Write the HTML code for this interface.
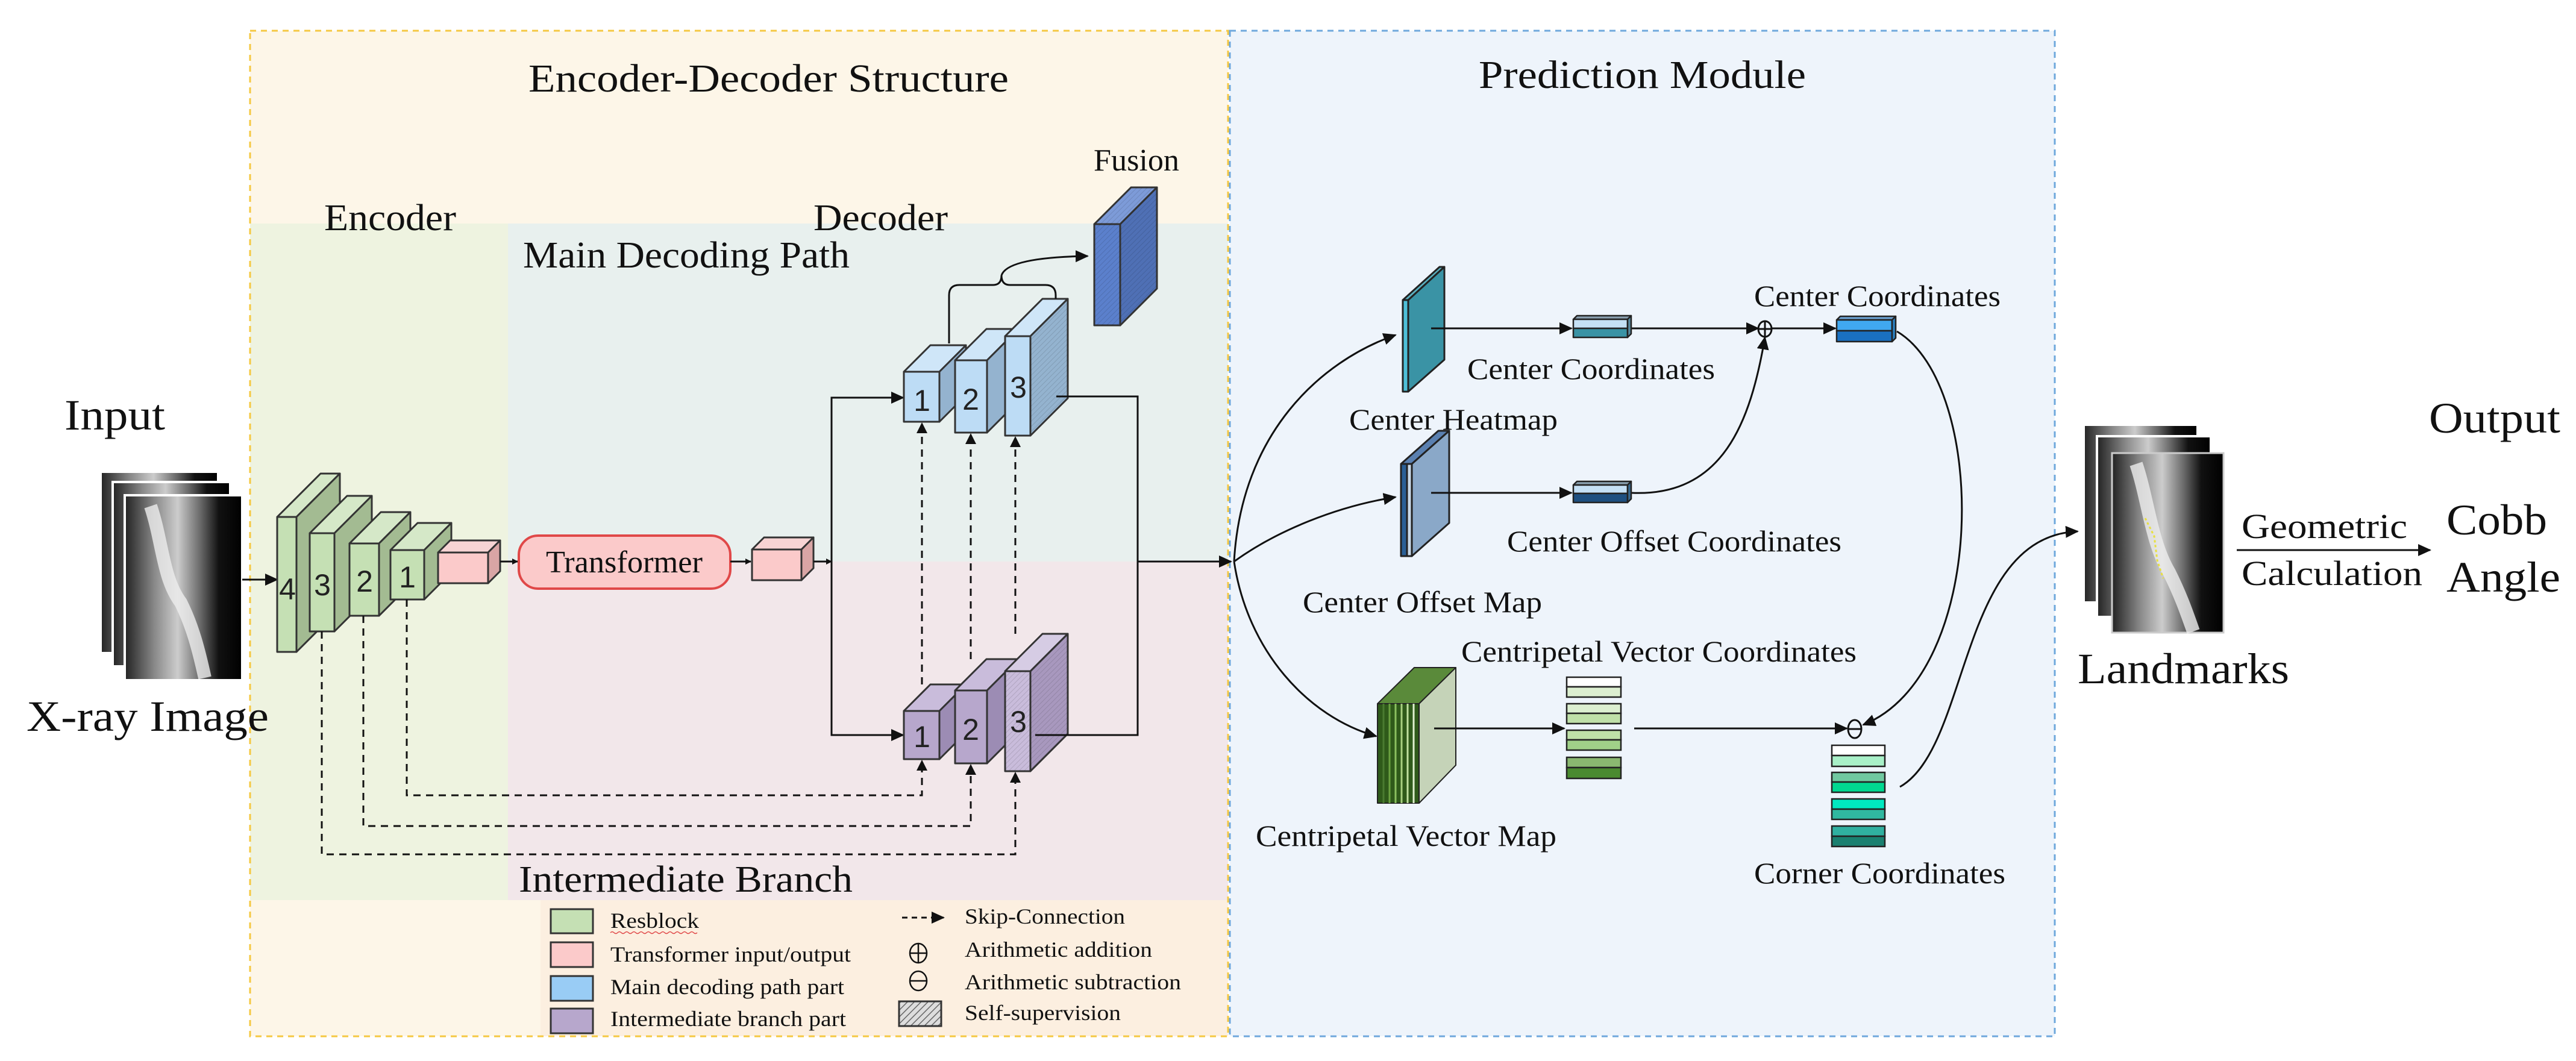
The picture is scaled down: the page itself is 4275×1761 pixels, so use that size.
<!DOCTYPE html>
<html><head><meta charset="utf-8"><style>
html,body{margin:0;padding:0;background:#fff;}
svg{display:block;}
text{font-family:"Liberation Serif",serif;fill:#111;}
.d{font-family:"Liberation Sans","DejaVu Sans",sans-serif;font-size:50px;fill:#222;text-anchor:middle;}
</style></head><body>
<svg width="4275" height="1761" viewBox="0 0 4275 1761" xmlns="http://www.w3.org/2000/svg">
<defs>
<pattern id="h" width="6" height="6" patternUnits="userSpaceOnUse" patternTransform="rotate(45)">
<rect width="6" height="6" fill="none"/><line x1="0" y1="0" x2="0" y2="6" stroke="#000" stroke-opacity="0.12" stroke-width="2"/></pattern>
<pattern id="hl" width="8" height="8" patternUnits="userSpaceOnUse" patternTransform="rotate(45)">
<rect width="8" height="8" fill="#ddd"/><line x1="0" y1="0" x2="0" y2="8" stroke="#666" stroke-width="3"/></pattern>
<marker id="a" markerWidth="10" markerHeight="10" refX="9" refY="5" orient="auto" markerUnits="userSpaceOnUse" viewBox="0 0 10 10">
<path d="M0,0 L10,5 L0,10 z" fill="#111"/></marker>
<marker id="A" markerWidth="22" markerHeight="20" refX="20" refY="10" orient="auto" markerUnits="userSpaceOnUse" viewBox="0 0 22 20">
<path d="M0,0 L22,10 L0,20 z" fill="#111"/></marker>
<linearGradient id="xr" x1="0" x2="1" y1="0" y2="0">
<stop offset="0" stop-color="#222"/><stop offset="0.25" stop-color="#888"/><stop offset="0.45" stop-color="#ccc"/><stop offset="0.65" stop-color="#666"/><stop offset="0.8" stop-color="#111"/><stop offset="1" stop-color="#000"/></linearGradient>
</defs>

<rect x="415" y="51" width="1623" height="1669" fill="#fdf6e8"/>
<rect x="415" y="371" width="428" height="1123" fill="#eef3e0"/>
<rect x="843" y="371" width="1195" height="561" fill="#e8f0ee"/>
<rect x="843" y="932" width="1195" height="562" fill="#f2e7ea"/>
<rect x="897" y="1494" width="1141" height="226" fill="#fcefe0"/>
<rect x="415" y="51" width="1623" height="1669" fill="none" stroke="#f5c842" stroke-width="3" stroke-dasharray="10 8"/>
<rect x="2041" y="51" width="1369" height="1669" fill="#eef4fb" stroke="#6fa8dc" stroke-width="3" stroke-dasharray="10 8"/>

<text x="877" y="152" font-size="66" textLength="797" lengthAdjust="spacingAndGlyphs">Encoder-Decoder Structure</text>
<text x="1815" y="283" font-size="52" textLength="142" lengthAdjust="spacingAndGlyphs">Fusion</text>
<text x="538" y="382" font-size="62" textLength="219" lengthAdjust="spacingAndGlyphs">Encoder</text>
<text x="1350" y="382" font-size="62" textLength="223" lengthAdjust="spacingAndGlyphs">Decoder</text>
<text x="868" y="444" font-size="62" textLength="542" lengthAdjust="spacingAndGlyphs">Main Decoding Path</text>
<text x="107" y="713" font-size="72" textLength="167" lengthAdjust="spacingAndGlyphs">Input</text>
<text x="44" y="1213" font-size="72" textLength="402" lengthAdjust="spacingAndGlyphs">X-ray Image</text>
<text x="861" y="1480" font-size="62" textLength="554" lengthAdjust="spacingAndGlyphs">Intermediate  Branch</text>

<rect x="167" y="783" width="195" height="301" fill="url(#xr)" stroke="#fff" stroke-width="4"/>
<rect x="187" y="800" width="195" height="306" fill="url(#xr)" stroke="#fff" stroke-width="4"/>
<rect x="207" y="822" width="195" height="307" fill="url(#xr)" stroke="#fff" stroke-width="4"/>
<path d="M250,840 C270,900 270,960 300,1000 C320,1040 330,1080 340,1125" stroke="#eee" stroke-width="22" fill="none" opacity="0.8"/>
<line x1="402" y1="962" x2="460" y2="962" stroke="#111" stroke-width="3" marker-end="url(#A)"/>

<g stroke="#333" stroke-width="3" stroke-linejoin="round">
<polygon points="460,858 532,786 564,786 492,858" fill="#d5e8c8"/>
<polygon points="492,858 564,786 564,1010 492,1082" fill="#a3bb92"/>
<rect x="460" y="858" width="32" height="224" fill="#c5e0b4"/>
<polygon points="514,885 576,823 617,823 555,885" fill="#d5e8c8"/>
<polygon points="555,885 617,823 617,986 555,1048" fill="#a3bb92"/>
<rect x="514" y="885" width="41" height="163" fill="#c5e0b4"/>
<polygon points="580,902 632,850 681,850 629,902" fill="#d5e8c8"/>
<polygon points="629,902 681,850 681,970 629,1022" fill="#a3bb92"/>
<rect x="580" y="902" width="49" height="120" fill="#c5e0b4"/>
<polygon points="648,913 693,868 749,868 704,913" fill="#d5e8c8"/>
<polygon points="704,913 749,868 749,950 704,995" fill="#a3bb92"/>
<rect x="648" y="913" width="56" height="82" fill="#c5e0b4"/>
<polygon points="727,917 747,897 830,897 810,917" fill="#f7d4d4"/>
<polygon points="810,917 830,897 830,948 810,968" fill="#d9a5a5"/>
<rect x="727" y="917" width="83" height="51" fill="#fbcaca"/>
</g>
<text class="d" x="477" y="995">4</text>
<text class="d" x="535" y="988">3</text>
<text class="d" x="605" y="982">2</text>
<text class="d" x="676" y="975">1</text>

<line x1="830" y1="932" x2="859" y2="932" stroke="#111" stroke-width="3" marker-end="url(#a)"/>
<rect x="861" y="889" width="351" height="88" rx="32" fill="#fbcaca" stroke="#e04848" stroke-width="4"/>
<text x="1036" y="950" font-size="52" text-anchor="middle" textLength="260" lengthAdjust="spacingAndGlyphs">Transformer</text>
<line x1="1212" y1="932" x2="1246" y2="932" stroke="#111" stroke-width="3" marker-end="url(#a)"/>
<g stroke="#333" stroke-width="3" stroke-linejoin="round">
<polygon points="1248,912 1268,892 1350,892 1330,912" fill="#f7d4d4"/>
<polygon points="1330,912 1350,892 1350,943 1330,963" fill="#d9a5a5"/>
<rect x="1248" y="912" width="82" height="51" fill="#fbcaca"/>
</g>
<g stroke="#111" stroke-width="3" fill="none">
<line x1="1350" y1="932" x2="1380" y2="932" marker-end="url(#a)"/>
<polyline points="1500,660 1380,660 1380,1220 1500,1220"/>
</g>
<line x1="1470" y1="660" x2="1499" y2="660" stroke="#111" stroke-width="3" marker-end="url(#A)"/>
<line x1="1470" y1="1220" x2="1499" y2="1220" stroke="#111" stroke-width="3" marker-end="url(#A)"/>

<g stroke="#111" stroke-width="3" fill="none" stroke-dasharray="12 9">
<polyline points="675,995 675,1320 1530,1320 1530,1270"/>
<polyline points="603,1022 603,1371 1611,1371 1611,1276"/>
<polyline points="534,1048 534,1418 1685,1418 1685,1290"/>
<line x1="1530" y1="1136" x2="1530" y2="712"/>
<line x1="1611" y1="1094" x2="1611" y2="730"/>
<line x1="1685" y1="1052" x2="1685" y2="735"/>
</g>
<g fill="#111">
<path d="M1530,1261 l-9,18 h18z"/><path d="M1611,1268 l-9,18 h18z"/><path d="M1685,1281 l-9,18 h18z"/>
<path d="M1530,701 l-9,18 h18z"/><path d="M1611,719 l-9,18 h18z"/><path d="M1685,724 l-9,18 h18z"/>
</g>

<g stroke="#333" stroke-width="3" stroke-linejoin="round">
<polygon points="1500,617 1544,573 1603,573 1559,617" fill="#cfe6f8"/>
<polygon points="1559,617 1603,573 1603,656 1559,700" fill="#94b3cf"/>
<rect x="1500" y="617" width="59" height="83" fill="#bddcf5"/>
<polygon points="1585,598 1637,546 1690,546 1638,598" fill="#cfe6f8"/>
<polygon points="1638,598 1690,546 1690,666 1638,718" fill="#94b3cf"/>
<rect x="1585" y="598" width="53" height="120" fill="#bddcf5"/>
<polygon points="1668,558 1730,496 1772,496 1710,558" fill="#cfe6f8"/>
<polygon points="1710,558 1772,496 1772,661 1710,723" fill="#94b3cf"/>
<rect x="1668" y="558" width="42" height="165" fill="#bddcf5"/>
<polygon points="1500,1180 1544,1136 1603,1136 1559,1180" fill="#c9bcdb"/>
<polygon points="1559,1180 1603,1136 1603,1216 1559,1260" fill="#9c8cb4"/>
<rect x="1500" y="1180" width="59" height="80" fill="#b7a7cc"/>
<polygon points="1585,1146 1637,1094 1690,1094 1638,1146" fill="#c9bcdb"/>
<polygon points="1638,1146 1690,1094 1690,1215 1638,1267" fill="#9c8cb4"/>
<rect x="1585" y="1146" width="53" height="121" fill="#b7a7cc"/>
<polygon points="1668,1114 1730,1052 1772,1052 1710,1114" fill="#d6cce4"/>
<polygon points="1710,1114 1772,1052 1772,1218 1710,1280" fill="#a898be"/>
<rect x="1668" y="1114" width="42" height="166" fill="#c9bcdb"/>
<polygon points="1816,372 1877,311 1920,311 1859,372" fill="#7d9bd8"/>
<polygon points="1859,372 1920,311 1920,479 1859,540" fill="#4f70b5"/>
<rect x="1816" y="372" width="43" height="168" fill="#5b80cc"/>
</g>
<g fill="url(#h)">
<polygon points="1710,558 1772,496 1772,661 1710,723"/>
<polygon points="1710,1114 1772,1052 1772,1218 1710,1280"/>
<rect x="1668" y="1114" width="42" height="166"/>
<polygon points="1859,372 1920,311 1920,479 1859,540"/>
<rect x="1816" y="372" width="43" height="168"/>
<polygon points="1816,372 1877,311 1920,311 1859,372"/>
</g>
<text class="d" x="1530" y="682">1</text>
<text class="d" x="1611" y="680">2</text>
<text class="d" x="1690" y="660">3</text>
<text class="d" x="1530" y="1240">1</text>
<text class="d" x="1611" y="1228">2</text>
<text class="d" x="1690" y="1215">3</text>

<g stroke="#111" stroke-width="3" fill="none">
<polyline points="1753,658 1888,658 1888,1220 1718,1220"/>
<line x1="1888" y1="932" x2="2043" y2="932" marker-end="url(#A)"/>
<path d="M1575,570 V490 Q1575,473 1592,473 H1648 Q1662,473 1662,457"/>
<path d="M1752,496 V490 Q1752,473 1735,473 H1676 Q1662,473 1662,457"/>
<path d="M1662,457 Q1672,427 1805,425" marker-end="url(#A)"/>
</g>

<g stroke="#333" stroke-width="3">
<rect x="914" y="1509" width="70" height="40" fill="#c5e0b4"/>
<rect x="914" y="1564" width="70" height="41" fill="#fbcaca"/>
<rect x="914" y="1620" width="70" height="41" fill="#99ccf5"/>
<rect x="914" y="1674" width="70" height="41" fill="#b7a7cc"/>
<rect x="1492" y="1662" width="70" height="41" fill="url(#hl)"/>
</g>
<g font-size="36">
<text x="1013" y="1540" textLength="147" lengthAdjust="spacingAndGlyphs">Resblock</text>
<text x="1013" y="1596" textLength="399" lengthAdjust="spacingAndGlyphs">Transformer input/output</text>
<text x="1013" y="1650" textLength="388" lengthAdjust="spacingAndGlyphs">Main decoding path part</text>
<text x="1013" y="1703" textLength="391" lengthAdjust="spacingAndGlyphs">Intermediate branch part</text>
<text x="1601" y="1533" textLength="266" lengthAdjust="spacingAndGlyphs">Skip-Connection</text>
<text x="1601" y="1588" textLength="311" lengthAdjust="spacingAndGlyphs">Arithmetic addition</text>
<text x="1601" y="1642" textLength="359" lengthAdjust="spacingAndGlyphs">Arithmetic subtraction</text>
<text x="1601" y="1693" textLength="259" lengthAdjust="spacingAndGlyphs">Self-supervision</text>
</g>
<path d="M1013,1548 q3,-3 6,0 t6,0 t6,0 t6,0 t6,0 t6,0 t6,0 t6,0 t6,0 t6,0 t6,0 t6,0 t6,0 t6,0 t6,0 t6,0 t6,0 t6,0 t6,0 t6,0 t6,0 t6,0 t6,0 t6,0" stroke="#e04848" stroke-width="1.5" fill="none"/>
<line x1="1497" y1="1523" x2="1566" y2="1523" stroke="#111" stroke-width="3" stroke-dasharray="9 7" marker-end="url(#A)"/>
<g stroke="#111" stroke-width="2.5" fill="none">
<ellipse cx="1524" cy="1582" rx="14" ry="16"/><line x1="1510" y1="1582" x2="1538" y2="1582"/><line x1="1524" y1="1566" x2="1524" y2="1598"/>
<ellipse cx="1524" cy="1628" rx="14" ry="16"/><line x1="1510" y1="1628" x2="1538" y2="1628"/>
</g>

<text x="2454" y="146" font-size="66" textLength="543" lengthAdjust="spacingAndGlyphs">Prediction Module</text>
<g font-size="50">
<text x="2911" y="508" textLength="409" lengthAdjust="spacingAndGlyphs">Center Coordinates</text>
<text x="2435" y="629" textLength="411" lengthAdjust="spacingAndGlyphs">Center Coordinates</text>
<text x="2239" y="713" textLength="346" lengthAdjust="spacingAndGlyphs">Center Heatmap</text>
<text x="2501" y="915" textLength="555" lengthAdjust="spacingAndGlyphs">Center Offset Coordinates</text>
<text x="2162" y="1016" textLength="397" lengthAdjust="spacingAndGlyphs">Center Offset Map</text>
<text x="2425" y="1098" textLength="656" lengthAdjust="spacingAndGlyphs">Centripetal Vector Coordinates</text>
<text x="2084" y="1404" textLength="499" lengthAdjust="spacingAndGlyphs">Centripetal Vector Map</text>
<text x="2911" y="1466" textLength="417" lengthAdjust="spacingAndGlyphs">Corner Coordinates</text>
</g>

<g stroke="#111" stroke-width="3" fill="none">
<path d="M2048,932 C2060,720 2190,600 2316,556" marker-end="url(#A)"/>
<path d="M2048,932 C2120,880 2220,840 2316,825" marker-end="url(#A)"/>
<path d="M2048,932 C2070,1080 2170,1190 2284,1222" marker-end="url(#A)"/>
</g>

<g stroke="#222" stroke-width="3" stroke-linejoin="round">
<polygon points="2328,498 2389,443 2397,443 2337,498" fill="#5ab0c0"/>
<polygon points="2337,498 2397,443 2397,597 2337,650" fill="#3a93a5"/>
<rect x="2328" y="498" width="9" height="152" fill="#4ec0d8"/>
</g>
<g stroke="#222" stroke-width="3" stroke-linejoin="round">
<polygon points="2325,770 2387,715 2405,715 2343,770" fill="#5a80b0"/>
<polygon points="2343,770 2405,715 2405,868 2343,923" fill="#8aa8c8"/>
<rect x="2325" y="770" width="10" height="153" fill="#2a5f95"/>
<rect x="2335" y="770" width="8" height="153" fill="#c8d8e8"/>
</g>
<g stroke="#222" stroke-width="2" stroke-linejoin="round">
<polygon points="2286,1168 2347,1108 2416,1108 2355,1168" fill="#5a8a3a"/>
<polygon points="2355,1168 2416,1108 2416,1270 2355,1333" fill="#c5d3b8"/>
<rect x="2286" y="1168" width="69" height="165" fill="#2f5a1a"/>
</g>
<g stroke-width="3">
<line x1="2296" y1="1168" x2="2296" y2="1333" stroke="#4a7a30"/>
<line x1="2306" y1="1168" x2="2306" y2="1333" stroke="#6aa040"/>
<line x1="2316" y1="1168" x2="2316" y2="1333" stroke="#8bc060"/>
<line x1="2326" y1="1168" x2="2326" y2="1333" stroke="#a8d080"/>
<line x1="2336" y1="1168" x2="2336" y2="1333" stroke="#c0e0a0"/>
<line x1="2346" y1="1168" x2="2346" y2="1333" stroke="#e0f0d0"/>
</g>

<g stroke="#111" stroke-width="3" fill="none">
<line x1="2375" y1="545" x2="2608" y2="545" marker-end="url(#A)"/>
<line x1="2707" y1="545" x2="2918" y2="545" marker-end="url(#A)"/>
<line x1="2940" y1="545" x2="3046" y2="545" marker-end="url(#A)"/>
<line x1="2375" y1="818" x2="2608" y2="818" marker-end="url(#A)"/>
<path d="M2707,818 C2860,825 2905,700 2929,560" marker-end="url(#A)"/>
<line x1="2380" y1="1209" x2="2596" y2="1209" marker-end="url(#A)"/>
<line x1="2712" y1="1209" x2="3065" y2="1209" marker-end="url(#A)"/>
<path d="M3148,550 C3300,640 3300,1120 3092,1203" marker-end="url(#A)"/>
<path d="M3153,1306 C3270,1240 3250,890 3448,882" marker-end="url(#A)"/>
<ellipse cx="2929" cy="546" rx="11" ry="13"/><line x1="2918" y1="546" x2="2940" y2="546"/><line x1="2929" y1="533" x2="2929" y2="559"/>
<ellipse cx="3078" cy="1210" rx="11" ry="15"/><line x1="3067" y1="1210" x2="3089" y2="1210"/>
</g>

<g stroke="#222" stroke-width="2.5" stroke-linejoin="round">
<polygon points="2611,530 2617,524 2707,524 2701,530" fill="#8aa0b0"/>
<rect x="2611" y="530" width="90" height="15" fill="#c5e0f5"/><rect x="2611" y="545" width="90" height="15" fill="#3a93a5"/>
<polygon points="2701,530 2707,524 2707,554 2701,560" fill="#5a8aa0"/>
<polygon points="2611,805 2617,799 2707,799 2701,805" fill="#8aa0b0"/>
<rect x="2611" y="805" width="90" height="14" fill="#c5e0f5"/><rect x="2611" y="819" width="90" height="15" fill="#1e4f80"/>
<polygon points="2701,805 2707,799 2707,828 2701,834" fill="#3a6a90"/>
<polygon points="3048,531 3054,525 3146,525 3140,531" fill="#6aa0d0"/>
<rect x="3048" y="531" width="92" height="18" fill="#40a8f0"/><rect x="3048" y="549" width="92" height="18" fill="#1a70c0"/>
<polygon points="3140,531 3146,525 3146,561 3140,567" fill="#2a80c0"/>
</g>
<g stroke="#222" stroke-width="2.5">
<rect x="2600" y="1124" width="90" height="16" fill="#fff"/><rect x="2600" y="1140" width="90" height="17" fill="#dcefd0"/>
<rect x="2600" y="1168" width="90" height="16" fill="#dcefd0"/><rect x="2600" y="1184" width="90" height="17" fill="#bfe0a8"/>
<rect x="2600" y="1212" width="90" height="16" fill="#bfe0a8"/><rect x="2600" y="1228" width="90" height="17" fill="#a0d088"/>
<rect x="2600" y="1257" width="90" height="17" fill="#8ab870"/><rect x="2600" y="1274" width="90" height="18" fill="#4a8a30"/>
<rect x="3040" y="1237" width="88" height="17" fill="#fff"/><rect x="3040" y="1254" width="88" height="18" fill="#a8f0c8"/>
<rect x="3040" y="1282" width="88" height="16" fill="#70c8a0"/><rect x="3040" y="1298" width="88" height="17" fill="#00d890"/>
<rect x="3040" y="1326" width="88" height="17" fill="#00e8c0"/><rect x="3040" y="1343" width="88" height="17" fill="#30b8a0"/>
<rect x="3040" y="1371" width="88" height="17" fill="#30b0a0"/><rect x="3040" y="1388" width="88" height="17" fill="#1a8070"/>
</g>

<rect x="3458" y="705" width="189" height="295" fill="url(#xr)" stroke="#fff" stroke-width="4"/>
<rect x="3480" y="724" width="189" height="300" fill="url(#xr)" stroke="#fff" stroke-width="4"/>
<rect x="3505" y="752" width="185" height="298" fill="url(#xr)" stroke="#ccc" stroke-width="3"/>
<path d="M3545,770 C3565,830 3570,900 3600,950 C3620,990 3630,1020 3640,1048" stroke="#eee" stroke-width="22" fill="none" opacity="0.8"/>
<polyline points="3560,860 3575,890 3580,930 3590,960" stroke="#e8e040" stroke-width="3" stroke-dasharray="4 4" fill="none"/>
<text x="3448" y="1134" font-size="72" textLength="351" lengthAdjust="spacingAndGlyphs">Landmarks</text>
<text x="4031" y="718" font-size="72" textLength="218" lengthAdjust="spacingAndGlyphs">Output</text>
<text x="3720" y="893" font-size="58" textLength="275" lengthAdjust="spacingAndGlyphs">Geometric</text>
<text x="3720" y="971" font-size="58" textLength="300" lengthAdjust="spacingAndGlyphs">Calculation</text>
<line x1="3712" y1="913" x2="4033" y2="913" stroke="#111" stroke-width="3" marker-end="url(#A)"/>
<text x="4060" y="887" font-size="72" textLength="167" lengthAdjust="spacingAndGlyphs">Cobb</text>
<text x="4060" y="982" font-size="72" textLength="189" lengthAdjust="spacingAndGlyphs">Angle</text>
</svg>
</body></html>
